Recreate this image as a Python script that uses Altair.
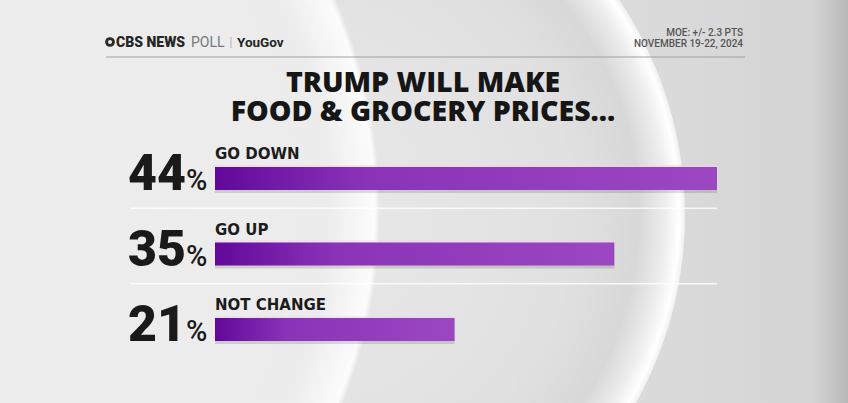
import altair as alt
import pandas as pd

# ---- data ----
categories = ["GO DOWN", "GO UP", "NOT CHANGE"]
values = [44, 35, 21]
rows = [0, 1, 2]
separator_rows = [0.5, 1.5]
title_lines = ["TRUMP WILL MAKE", "FOOD & GROCERY PRICES..."]
brand_main = "CBS NEWS"
brand_poll = "POLL"
brand_partner = "YouGov"
meta_lines = ["MOE: +/- 2.3 PTS", "NOVEMBER 19-22, 2024"]

df = pd.DataFrame({"cat": categories, "val": values, "row": rows,
                   "num": [str(v) for v in values], "pct": ["%"] * len(values)})
seps = pd.DataFrame({"row": separator_rows})
one = pd.DataFrame({"k": [0]})

W, H = 848, 403
NUMFONT = "Roboto, Liberation Sans, sans-serif"
HEAVY = "Open Sans, Lato, sans-serif"
LABEL = "DejaVu Sans, sans-serif"

xs = alt.Scale(domain=[0, 44], range=[215, 717], nice=False, zero=True)
ys = alt.Scale(domain=[0, 2], range=[173.5, 334.5], nice=False)
X = alt.X("val:Q", scale=xs, axis=None)
Y = alt.Y("row:Q", scale=ys, axis=None)

def G(*stops):
    return [alt.GradientStop(color=c, offset=o) for o, c in stops]

# ---- background decoration ----
bg = alt.Chart(one).mark_rect(
    fill=alt.LinearGradient(gradient="linear", x1=0, x2=1, y1=0, y2=0,
                            stops=G((0, "#e6e6e6"), (0.8, "#dadada"), (0.96, "#d4d4d4"), (1, "#b8b8b8")))
).encode(x=alt.value(0), x2=alt.value(W), y=alt.value(0), y2=alt.value(H))

disc_b = alt.Chart(one).mark_arc(
    radius=385, theta=0, theta2=6.2832,
    fill=alt.RadialGradient(gradient="radial", x1=0.5, y1=0.5, x2=0.5, y2=0.5, r1=0, r2=0.5,
                            stops=G((0, "#e9e9e9"), (0.7, "#e1e1e1"), (0.88, "#d8d8d8"),
                                    (0.95, "#eeeeee"), (0.985, "#ffffff"), (1, "#f0f0f0")))
).encode(x=alt.value(300), y=alt.value(215))

disc_a = alt.Chart(one).mark_arc(
    radius=520, theta=0, theta2=6.2832,
    fill=alt.RadialGradient(gradient="radial", x1=0.5, y1=0.5, x2=0.5, y2=0.5, r1=0, r2=0.5,
                            stops=G((0, "#ededed"), (0.9, "#ececec"), (0.96, "#f7f7f7"),
                                    (0.99, "#fcfcfc"), (1, "#e6e6e6")))
).encode(x=alt.value(-140), y=alt.value(210))

# ---- header ----
header_rule = alt.Chart(one).mark_rule(color="#a0a0a0", strokeWidth=1).encode(
    x=alt.value(106), x2=alt.value(745), y=alt.value(57))
logo = alt.Chart(one).mark_point(shape="circle", filled=True, fill="#2a2a2a",
                                 size=95, opacity=1).encode(x=alt.value(110), y=alt.value(42))
logo_eye = alt.Chart(one).mark_point(shape="circle", filled=True, fill="#eeeeee",
                                     size=16, opacity=1).encode(x=alt.value(110), y=alt.value(42))
brand1 = alt.Chart(one).mark_text(text=brand_main, align="left", baseline="alphabetic",
                                  font=NUMFONT, fontWeight=900, fontSize=14, color="#262626").encode(
    x=alt.value(116), y=alt.value(47))
brand2 = alt.Chart(one).mark_text(text=brand_poll, align="left", baseline="alphabetic",
                                  font=NUMFONT, fontWeight=400, fontSize=14, color="#777777").encode(
    x=alt.value(191), y=alt.value(47))
brand_sep = alt.Chart(one).mark_rule(color="#b5b5b5", strokeWidth=1).encode(
    x=alt.value(231), y=alt.value(37), y2=alt.value(48))
brand3 = alt.Chart(one).mark_text(text=brand_partner, align="left", baseline="alphabetic",
                                  font=NUMFONT, fontWeight=700, fontSize=13.5, color="#262626").encode(
    x=alt.value(237), y=alt.value(47))
meta = alt.Chart(one).mark_text(text=meta_lines, align="right", baseline="alphabetic",
                                font=NUMFONT, fontWeight=500, fontSize=10, color="#555555",
                                lineHeight=11).encode(x=alt.value(743), y=alt.value(36))

# ---- title ----
title = alt.Chart(one).mark_text(text=title_lines, align="center", baseline="alphabetic",
                                 font=HEAVY, fontWeight=800, fontSize=28.5, color="#161616",
                                 lineHeight=28.5).encode(x=alt.value(423), y=alt.value(92))

# ---- row separators ----
sep_rules = alt.Chart(seps).mark_rule(color="#ffffff", strokeWidth=1.5, opacity=0.8,
                                      yOffset=-8).encode(
    x=alt.value(130), x2=alt.value(717), y=alt.Y("row:Q", scale=ys, axis=None))

# ---- bars ----
shadow = alt.Chart(df).mark_bar(orient="horizontal", size=23, yOffset=3, fill="#000000",
                                opacity=0.13).encode(x=X, x2=alt.datum(0), y=Y)
glow = alt.Chart(df).mark_bar(orient="horizontal", size=23, yOffset=-2, fill="#ead2f4",
                              opacity=0.5).encode(x=X, x2=alt.datum(0), y=Y)
bars = alt.Chart(df).mark_bar(
    orient="horizontal", size=23,
    fill=alt.LinearGradient(gradient="linear", x1=0, x2=1, y1=0, y2=0,
                            stops=G((0, "#62089a"), (0.3, "#8a33b8"), (1, "#9c47c2")))
).encode(x=X, x2=alt.datum(0), y=Y)

labels = alt.Chart(df).mark_text(align="left", baseline="alphabetic", font=LABEL,
                                 fontWeight="bold", fontSize=15, color="#1c1c1c",
                                 dy=-19.5).encode(x=alt.datum(0), y=Y, text="cat:N")
nums = alt.Chart(df).mark_text(align="right", baseline="alphabetic", font=NUMFONT,
                               fontWeight=900, fontSize=50, color="#1a1a1a",
                               dx=-29, dy=11.5).encode(x=alt.datum(0), y=Y, text="num:N")
pcts = alt.Chart(df).mark_text(align="left", baseline="alphabetic", font=NUMFONT,
                               fontWeight=500, fontSize=29, color="#1a1a1a",
                               dx=-29, dy=11.5).encode(x=alt.datum(0), y=Y, text="pct:N")

chart = alt.layer(
    bg, disc_b, disc_a, header_rule, logo, logo_eye, brand1, brand2, brand_sep, brand3, meta,
    title, sep_rules, shadow, glow, bars, labels, nums, pcts
).properties(width=W, height=H, padding=0, autosize="none"
).configure_view(stroke=None, strokeWidth=0
).configure(background="#e6e6e6")

chart.save("out.html", embed_options={"renderer": "svg", "actions": False})
